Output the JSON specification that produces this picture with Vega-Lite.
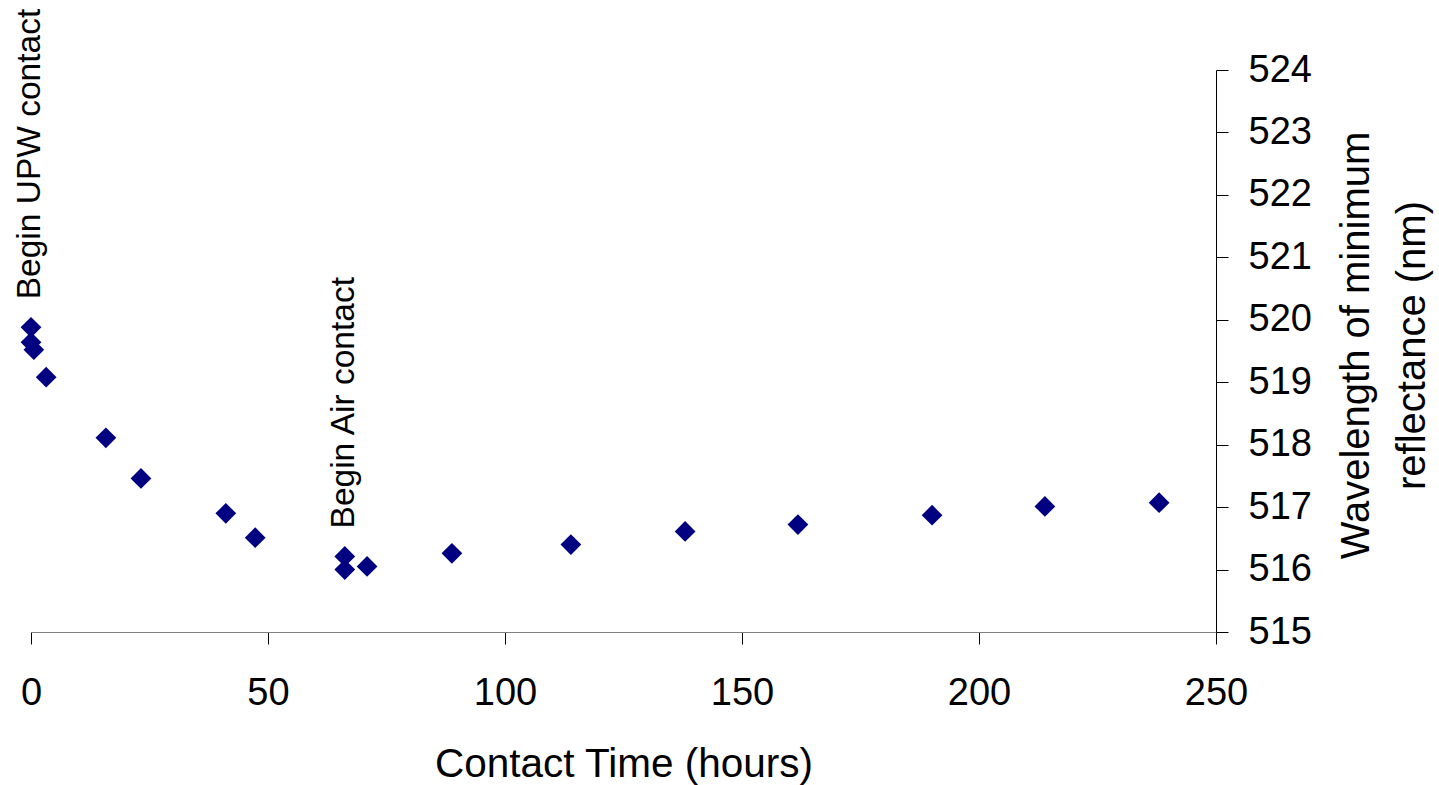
{
  "$schema": "https://vega.github.io/schema/vega-lite/v6.json",
  "width": 1185,
  "height": 562,
  "autosize": "none",
  "padding": {"left": 31, "top": 70, "right": 223, "bottom": 153},
  "background": "white",
  "config": {"view": {"stroke": null}, "font": "Liberation Sans"},
  "layer": [
    {
      "data": {"values": [
        {"hours": 0, "wl": 519.88},
        {"hours": 0, "wl": 519.64},
        {"hours": 0.6, "wl": 519.52},
        {"hours": 3.2, "wl": 519.08},
        {"hours": 15.8, "wl": 518.11},
        {"hours": 23.2, "wl": 517.46},
        {"hours": 41.1, "wl": 516.9},
        {"hours": 47.3, "wl": 516.51},
        {"hours": 66.2, "wl": 516.21},
        {"hours": 66.2, "wl": 516.0},
        {"hours": 70.9, "wl": 516.05},
        {"hours": 88.8, "wl": 516.26},
        {"hours": 113.9, "wl": 516.4},
        {"hours": 138.0, "wl": 516.61},
        {"hours": 161.8, "wl": 516.72},
        {"hours": 190.1, "wl": 516.87},
        {"hours": 213.9, "wl": 517.01},
        {"hours": 238.0, "wl": 517.07}
      ]},
      "mark": {"type": "point", "shape": "diamond", "filled": true, "size": 430, "color": "#000080", "opacity": 1},
      "encoding": {
        "x": {
          "field": "hours", "type": "quantitative",
          "scale": {"domain": [0, 250], "nice": false, "zero": false},
          "axis": {
            "values": [0, 50, 100, 150, 200, 250],
            "format": "d",
            "title": "Contact Time (hours)",
            "titleFontSize": 40.5, "titleFontWeight": "normal", "titleColor": "black",
            "titleX": 592.5, "titleY": 144.5, "titleAlign": "center", "titleBaseline": "alphabetic",
            "labelFontSize": 38, "labelColor": "black", "labelPadding": 30,
            "labelFlush": false, "labelOverlap": false,
            "tickSize": 12, "tickColor": "black", "domainColor": "#808080", "grid": false
          }
        },
        "y": {
          "field": "wl", "type": "quantitative",
          "scale": {"domain": [515, 524], "nice": false, "zero": false},
          "axis": {
            "orient": "right",
            "values": [515, 516, 517, 518, 519, 520, 521, 522, 523, 524],
            "format": "d",
            "title": ["Wavelength of minimum", "reflectance (nm)"],
            "titleFontSize": 40, "titleFontWeight": "normal", "titleColor": "black",
            "titleAngle": 270, "titleX": 140, "titleY": 275, "titleAlign": "center", "titleBaseline": "middle",
            "titleLineHeight": 56,
            "labelFontSize": 38, "labelColor": "black", "labelPadding": 20,
            "labelFlush": false, "labelOverlap": false,
            "tickSize": 12, "tickColor": "black", "domainColor": "black", "grid": false
          }
        }
      }
    },
    {
      "data": {"values": [
        {"hours": 0, "wl": 519.88, "label": "Begin UPW contact"},
        {"hours": 66.2, "wl": 516.21, "label": "Begin Air contact"}
      ]},
      "mark": {"type": "text", "angle": 270, "align": "left", "baseline": "alphabetic", "fontSize": 33.5, "font": "Liberation Sans", "color": "black", "dx": 28, "dy": 9},
      "encoding": {
        "x": {"field": "hours", "type": "quantitative"},
        "y": {"field": "wl", "type": "quantitative"},
        "text": {"field": "label"}
      }
    }
  ]
}
